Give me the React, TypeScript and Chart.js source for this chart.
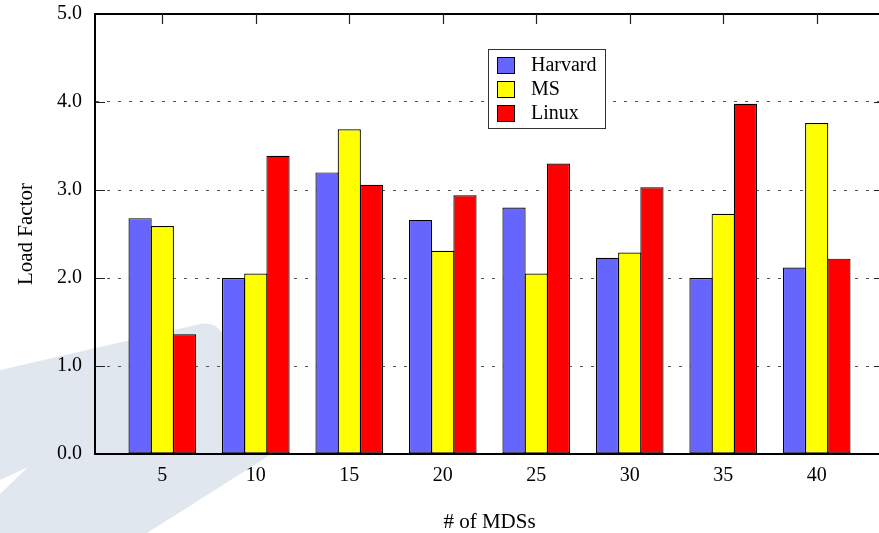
import React, { useEffect, useRef } from "react";
import { Chart, registerables } from "chart.js";

Chart.register(...registerables);

const mdsCounts = [5, 10, 15, 20, 25, 30, 35, 40];
const harvardValues = [2.68, 2.0, 3.2, 2.66, 2.8, 2.23, 2.0, 2.12];
const msValues = [2.59, 2.05, 3.69, 2.31, 2.05, 2.29, 2.73, 3.76];
const linuxValues = [1.36, 3.39, 3.06, 2.94, 3.3, 3.03, 3.98, 2.22];
const seriesNames = ["Harvard", "MS", "Linux"];
const seriesColors = ["#6666ff", "#ffff00", "#ff0000"];
const yTicks = [0, 1, 2, 3, 4, 5];

const FONT = "'Liberation Serif', 'Times New Roman', serif";

const framePlugin = {
  id: "gnuplotFrame",
  afterDatasetsDraw(chart: any) {
    const { ctx, chartArea } = chart;
    const xs = chart.scales.x;
    const ys = chart.scales.y;
    ctx.save();
    ctx.strokeStyle = "#000";
    ctx.lineWidth = 2;
    ctx.beginPath();
    ctx.moveTo(chartArea.left, chartArea.top);
    ctx.lineTo(chartArea.right, chartArea.top);
    ctx.moveTo(chartArea.right, chartArea.top);
    ctx.lineTo(chartArea.right, chartArea.bottom);
    ctx.stroke();
    ctx.lineWidth = 1.2;
    ctx.strokeStyle = "#222";
    ctx.beginPath();
    mdsCounts.forEach((v) => {
      const x = Math.round(xs.getPixelForValue(v)) + 0.5;
      ctx.moveTo(x, chartArea.top);
      ctx.lineTo(x, chartArea.top + 10);
    });
    yTicks.forEach((v) => {
      if (v === 0 || v === 5) return;
      const y = Math.round(ys.getPixelForValue(v)) + 0.5;
      ctx.moveTo(chartArea.left, y);
      ctx.lineTo(chartArea.left + 10, y);
      ctx.moveTo(chartArea.right - 10, y);
      ctx.lineTo(chartArea.right, y);
    });
    ctx.stroke();

    const bx = 488.5, by = 49.5, bw = 117, bh = 79;
    ctx.fillStyle = "#fff";
    ctx.fillRect(bx, by, bw, bh);
    ctx.strokeStyle = "#333";
    ctx.lineWidth = 1;
    ctx.strokeRect(bx, by, bw, bh);
    chart.data.datasets.forEach((ds: any, i: number) => {
      const sy = 57 + i * 24;
      ctx.fillStyle = ds.backgroundColor;
      ctx.fillRect(497, sy, 18, 17);
      ctx.strokeStyle = "#000";
      ctx.strokeRect(497.5, sy + 0.5, 17, 16);
      ctx.fillStyle = "#000";
      ctx.font = `20px ${FONT}`;
      ctx.textAlign = "left";
      ctx.textBaseline = "middle";
      ctx.fillText(ds.label, 531, sy + 9);
    });
    ctx.restore();
  },
};

export default function App() {
  const canvasRef = useRef<HTMLCanvasElement | null>(null);

  useEffect(() => {
    const canvas = canvasRef.current;
    if (!canvas) return;
    const valueSets = [harvardValues, msValues, linuxValues];
    const chart = new Chart(canvas, {
      type: "bar",
      data: {
        datasets: seriesNames.map((name, i) => ({
          label: name,
          data: mdsCounts.map((m, j) => ({ x: m, y: valueSets[i][j] })),
          backgroundColor: seriesColors[i],
          borderColor: "#000",
          borderWidth: 1.2,
          borderSkipped: false,
          categoryPercentage: 0.713,
          barPercentage: 1.045,
        })),
      },
      plugins: [framePlugin],
      options: {
        responsive: false,
        animation: false,
        events: [],
        layout: { padding: { top: 14, right: 6, bottom: 0, left: 0 } },
        plugins: {
          legend: { display: false },
          tooltip: { enabled: false },
          title: { display: false },
        },
        scales: {
          x: {
            type: "linear",
            position: "bottom",
            min: 1.4,
            max: 43.6,
            offset: false,
            afterBuildTicks: (s: any) => {
              s.ticks = mdsCounts.map((v) => ({ value: v }));
            },
            afterFit: (s: any) => {
              s.height = 79;
              s.paddingLeft = 0;
              s.paddingRight = 0;
            },
            grid: { display: false, drawTicks: false, tickLength: 0 },
            border: { display: true, color: "#000", width: 2 },
            ticks: {
              padding: 10,
              maxRotation: 0,
              autoSkip: false,
              color: "#000",
              font: { family: FONT, size: 20 },
              callback: (v: any) => String(v),
            },
            title: {
              display: true,
              text: "# of MDSs",
              color: "#000",
              padding: { top: 0, bottom: 0 },
              font: { family: FONT, size: 21, lineHeight: 1.0 },
            },
          },
          y: {
            min: 0,
            max: 5,
            afterBuildTicks: (s: any) => {
              s.ticks = yTicks.map((v) => ({ value: v }));
            },
            afterFit: (s: any) => {
              s.width = 95;
              s.paddingTop = 0;
              s.paddingBottom = 0;
            },
            grid: {
              drawTicks: false,
              tickLength: 0,
              lineWidth: 1,
              color: (c: any) =>
                c.tick && (c.tick.value === 0 || c.tick.value === 5)
                  ? "rgba(0,0,0,0)"
                  : "#555",
            },
            border: { display: true, color: "#000", width: 2, dash: [3, 8] },
            ticks: {
              padding: 13,
              color: "#000",
              font: { family: FONT, size: 20 },
              callback: (v: any) => Number(v).toFixed(1),
            },
            title: {
              display: true,
              text: "Load Factor",
              color: "#000",
              padding: { top: 16, bottom: 0 },
              font: { family: FONT, size: 21, lineHeight: 1.0 },
            },
          },
        },
      },
    } as any);
    return () => chart.destroy();
  }, []);

  return (
    <div
      style={{
        position: "fixed",
        left: 0,
        top: 0,
        width: 879,
        height: 533,
        overflow: "hidden",
        background: "#fff",
      }}
    >
      <svg
        width={879}
        height={533}
        style={{ position: "absolute", left: 0, top: 0 }}
      >
        <path
          d="M0,370 L196,325 Q214,320 222,333 L270,455 L147,533 L0,533 Z"
          fill="#e1e7ee"
        />
        <path d="M0,480 L28,467 L0,494 Z" fill="#ffffff" />
      </svg>
      <canvas
        ref={canvasRef}
        width={890}
        height={533}
        style={{ position: "absolute", left: 0, top: 0 }}
      />
    </div>
  );
}
